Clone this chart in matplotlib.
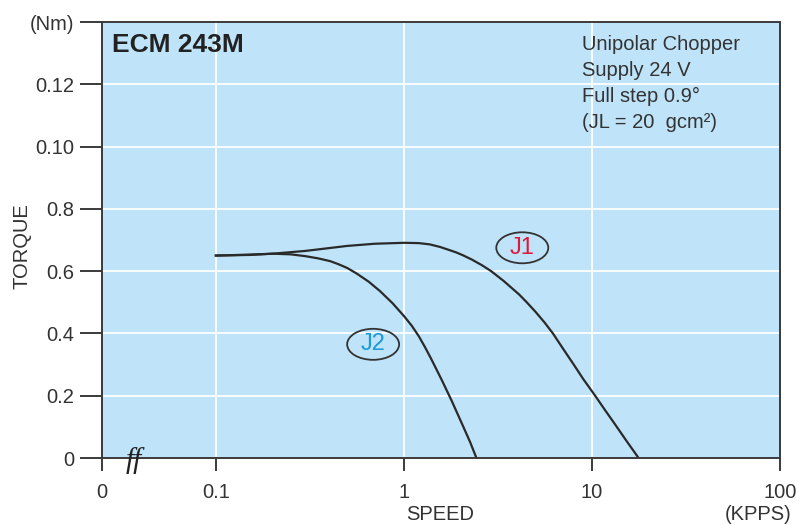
import numpy as np
import matplotlib
matplotlib.use("Agg")
import matplotlib.pyplot as plt
from matplotlib.patches import Ellipse

plt.rcParams['font.family'] = ['Liberation Sans', 'DejaVu Sans']

# torque curves (speed in KPPS, torque in chart units)
j1_speed = [0.1, 0.15, 0.2, 0.3, 0.4, 0.5, 0.7, 1.0, 1.2, 1.37, 1.55, 1.7,
            1.9, 2.06, 2.3, 2.6, 2.91, 3.4, 4.1, 4.5, 5.0, 5.6, 6.2, 7.0,
            8.0, 9.0, 10.4, 11.7, 13.2, 15.3, 17.7]
j1_torque = [0.650, 0.652, 0.656, 0.665, 0.674, 0.681, 0.688, 0.691, 0.690,
             0.686, 0.678, 0.670, 0.660, 0.651, 0.637, 0.619, 0.600, 0.568,
             0.525, 0.500, 0.470, 0.435, 0.400, 0.352, 0.300, 0.253, 0.200,
             0.155, 0.110, 0.054, 0.0]

j2_speed = [0.1, 0.15, 0.2, 0.25, 0.3, 0.35, 0.406, 0.45, 0.5, 0.562, 0.65,
            0.746, 0.87, 1.0, 1.1, 1.2, 1.3, 1.4, 1.6, 1.8, 2.05, 2.25, 2.43]
j2_torque = [0.650, 0.653, 0.656, 0.654, 0.648, 0.641, 0.632, 0.622, 0.610,
             0.592, 0.566, 0.536, 0.497, 0.456, 0.425, 0.391, 0.354, 0.317,
             0.247, 0.182, 0.106, 0.051, 0.0]

y_ticks = [0, 0.2, 0.4, 0.6, 0.8, 1.0, 1.2, 1.4]
y_labels = ['0', '0.2', '0.4', '0.6', '0.8', '0.10', '0.12', '(Nm)']
x_ticks = [0.1, 1, 10, 100]
x_labels = ['0.1', '1', '10', '100']
x_zero = 0.0248

info_lines = ['Unipolar Chopper', 'Supply 24 V', 'Full step 0.9°', '(JL = 20  gcm²)']

edge = '#3a3a3a'
txt = '#333333'
fs = 14.5

fig = plt.figure(figsize=(7.99, 5.25), dpi=100)
ax = fig.add_axes([102 / 799, 67 / 525, 678 / 799, 436 / 525])
ax.set_facecolor('#bfe3f8')

ax.set_xscale('log')
ax.set_xlim(x_zero, 100)
ax.set_ylim(0, 1.4)

ax.grid(True, which='major', color='white', lw=1.3)
ax.set_axisbelow(True)

ax.plot(j1_speed, j1_torque, color='#2a2a2a', lw=1.6)
ax.plot(j2_speed, j2_torque, color='#2a2a2a', lw=1.6)

ax.set_xticks(x_ticks)
ax.set_xticklabels(x_labels)
ax.set_xticks([x_zero], ['0'], minor=True)
ax.set_yticks(y_ticks)
ax.set_yticklabels(y_labels)

ax.tick_params(axis='y', direction='out', length=16, width=1.4, color=edge,
               labelsize=fs, labelcolor=txt, pad=4)
ax.tick_params(axis='x', which='both', direction='out', length=9, width=1.4,
               color=edge, labelsize=fs, labelcolor=txt, pad=9)
for s in ax.spines.values():
    s.set_color(edge)
    s.set_linewidth(1.4)

fig.text(112 / 799, 1 - 45 / 525, 'ECM 243M', fontsize=19, fontweight='bold',
         color='#222222', va='center', ha='left')

for i, line in enumerate(info_lines):
    fig.text(582 / 799, 1 - (44 + i * 26) / 525, line, fontsize=fs,
             color=txt, va='center', ha='left')

# curve labels in ellipses
labels = [('J1', 4.26, 0.675, '#e0193c'), ('J2', 0.686, 0.365, '#1a9ad6')]
for name, lx, ly, col in labels:
    px, py = ax.transData.transform((lx, ly))
    fx, fy = px / fig.bbox.width, py / fig.bbox.height
    ax.text(lx, ly, name, fontsize=17, color=col, ha='center', va='center')
    fig.patches.append(Ellipse((fx, fy), 52 / 799, 31 / 525, transform=fig.transFigure,
                               fc='none', ec='#333333', lw=1.3))

fig.text(134 / 799, 1 - 461 / 525, 'ff', fontsize=21, style='italic',
         family='Liberation Serif', color='#222222', ha='center', va='center')

fig.text(22 / 799, 1 - 246 / 525, 'TORQUE', rotation=90, fontsize=fs,
         color=txt, ha='center', va='center')
fig.text(440 / 799, 1 - 515 / 525, 'SPEED', fontsize=fs, color=txt,
         ha='center', va='center')
fig.text(758 / 799, 1 - 515 / 525, '(KPPS)', fontsize=fs, color=txt,
         ha='center', va='center')

fig.savefig('out.png', dpi=100)
